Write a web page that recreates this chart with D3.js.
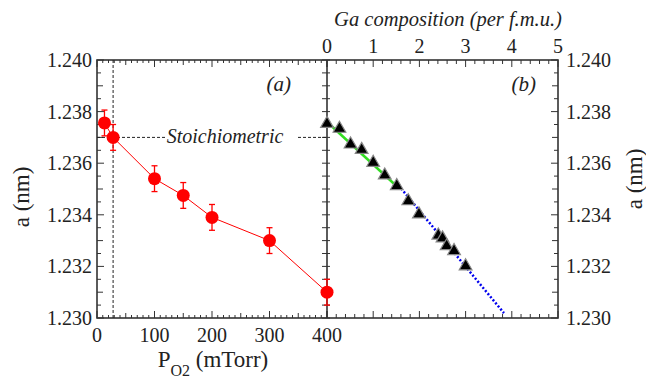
<!DOCTYPE html>
<html>
<head>
<meta charset="utf-8">
<script src="https://cdn.jsdelivr.net/npm/d3@7"></script>
<style>
  body { margin: 0; background: #fff; }
</style>
</head>
<body>
<svg id="chart" width="646" height="380"></svg>
<script>
// panel (a): lattice constant vs oxygen pressure
var pressure = [13, 28, 100, 150, 200, 300, 400];
var latticeA = [1.23756, 1.2370, 1.23540, 1.23475, 1.23390, 1.23300, 1.23100];
var errA = [0.0005, 0.0005, 0.0005, 0.0005, 0.0005, 0.0005, 0.0005];

// panel (b): lattice constant vs Ga composition
var gaComp = [0.0, 0.27, 0.51, 0.75, 1.0, 1.25, 1.51, 1.76, 1.99, 2.41, 2.50, 2.59, 2.75, 3.0];
var latticeB = [1.23757, 1.23738, 1.23677, 1.23656, 1.23606, 1.23557, 1.23516, 1.23457, 1.23406, 1.23324, 1.23313, 1.23283, 1.23264, 1.23205];

// fitted lines in (b)
var greenFitX = [0.05, 1.55];
var greenFitY = [1.23752, 1.23504];
var blueFitX = [1.55, 3.83];
var blueFitY = [1.23514, 1.23019];

var stoichP = 28;
var stoichA = 1.2370;

var yTicks = [1.230, 1.232, 1.234, 1.236, 1.238, 1.240];
var pTicks = [0, 100, 200, 300, 400];
var gaTicks = [0, 1, 2, 3, 4, 5];

var svg = d3.select("#chart");
var axisColor = "#333";
var textColor = "#222";
var serif = "Liberation Serif";   // quoted lists fell back to sans, keep single name

var xA = d3.scaleLinear().domain([0, 400]).range([97, 327]);
var xB = d3.scaleLinear().domain([0, 5]).range([327, 558]);
var y = d3.scaleLinear().domain([1.230, 1.240]).range([318, 60]);

// frame edges (avoid "top" - it's a window property)
var yTop = y.range()[1], yBot = y.range()[0];
var xLeft = xA.range()[0], xMid = xA.range()[1], xRight = xB.range()[1];

// ticks, drawn by hand so they point inside like the original
var g = svg.append("g").attr("stroke", axisColor);

function tick(x1, y1, x2, y2) {
    g.append("line").attr("x1", x1).attr("y1", y1).attr("x2", x2).attr("y2", y2).attr("stroke-width", 1);
}

// y ticks every 0.0005
d3.range(0, 21).forEach(function(i) {
    var yy = y(1.230 + i * 0.0005);
    var len = (i % 4 == 0) ? 7 : (i % 2 == 0 ? 6 : 4);
    tick(xLeft, yy, xLeft + len, yy);
    tick(xRight, yy, xRight - len, yy);
    tick(xMid - 5, yy, xMid + 3, yy);
});

// panel a x ticks every 10 mTorr
d3.range(0, 41).forEach(function(i) {
    var xx = xA(i * 10);
    var len = (i % 10 == 0) ? 7 : (i % 5 == 0 ? 5 : 3);
    tick(xx, yBot, xx, yBot - len);
    tick(xx, yTop, xx, yTop + len);
});

// panel b x ticks every 0.2
d3.range(0, 26).forEach(function(i) {
    var xx = xB(i * 0.2);
    var len = (i % 5 == 0) ? 7 : 4;
    tick(xx, yBot, xx, yBot - len);
    tick(xx, yTop, xx, yTop + len);
});

// frame and divider
svg.append("rect")
    .attr("x", xLeft).attr("y", yTop)
    .attr("width", xRight - xLeft).attr("height", yBot - yTop)
    .attr("fill", "none").attr("stroke", axisColor).attr("stroke-width", 1.6);
svg.append("line")
    .attr("x1", xMid).attr("x2", xMid).attr("y1", yTop).attr("y2", yBot)
    .attr("stroke", axisColor).attr("stroke-width", 1.6);

function label(x, yy, txt, size, anchor, italic) {
    return svg.append("text").attr("x", x).attr("y", yy)
        .attr("text-anchor", anchor || "middle")
        .attr("font-family", serif)
        .attr("font-size", size)
        .attr("font-style", italic ? "italic" : "normal")
        .attr("fill", textColor)
        .text(txt);
}

// tick labels
yTicks.forEach(function(d) {
    label(xLeft - 5, y(d) + 7, d3.format(".3f")(d), 20, "end");
    label(xRight + 8, y(d) + 7, d3.format(".3f")(d), 20, "start");
});
pTicks.forEach(function(d) { label(xA(d), 342, d, 20); });
gaTicks.forEach(function(d) { label(xB(d), 53, d, 20); });

// axis titles
label(0, 0, "a (nm)", 23).attr("transform", "translate(29,197) rotate(-90)");
label(0, 0, "a (nm)", 23).attr("transform", "translate(642,179) rotate(-90)");
var px = label(213, 367, "", 23);
px.append("tspan").text("P");
px.append("tspan").attr("dy", 9).attr("font-size", 16).text("O2");
px.append("tspan").attr("dy", -9).text(" (mTorr)");
label(448, 26, "Ga composition (per f.m.u.)", 20.5, "middle", true);

// panel labels
label(291, 91, "(a)", 21, "end", true);
label(536, 91, "(b)", 21, "end", true);

// stoichiometric guide lines
svg.append("line")
    .attr("x1", xA(stoichP)).attr("x2", xA(stoichP)).attr("y1", yTop).attr("y2", yBot)
    .attr("stroke", "#222").attr("stroke-width", 1).attr("stroke-dasharray", "3,2");
svg.append("line")
    .attr("x1", xLeft).attr("x2", 166).attr("y1", y(stoichA)).attr("y2", y(stoichA))
    .attr("stroke", "#222").attr("stroke-width", 1).attr("stroke-dasharray", "3,2");
svg.append("line")
    .attr("x1", 298).attr("x2", xMid).attr("y1", y(stoichA)).attr("y2", y(stoichA))
    .attr("stroke", "#222").attr("stroke-width", 1).attr("stroke-dasharray", "3,2");
label(225, y(stoichA) + 6, "Stoichiometric", 20, "middle", true);

// panel (a) data
var dataA = pressure.map(function(p, i) { return {x: p, y: latticeA[i], e: errA[i]}; });
svg.append("path").datum(dataA)
    .attr("fill", "none").attr("stroke", "#ff0000").attr("stroke-width", 1)
    .attr("d", d3.line().x(function(d) { return xA(d.x); }).y(function(d) { return y(d.y); }));
var eb = svg.append("g").attr("stroke", "#ff0000").attr("stroke-width", 1.3);
dataA.forEach(function(d) {
    eb.append("line").attr("x1", xA(d.x)).attr("x2", xA(d.x)).attr("y1", y(d.y - d.e)).attr("y2", y(d.y + d.e));
    eb.append("line").attr("x1", xA(d.x) - 3).attr("x2", xA(d.x) + 3).attr("y1", y(d.y - d.e)).attr("y2", y(d.y - d.e));
    eb.append("line").attr("x1", xA(d.x) - 3).attr("x2", xA(d.x) + 3).attr("y1", y(d.y + d.e)).attr("y2", y(d.y + d.e));
});
svg.selectAll(".dotA").data(dataA).enter().append("circle")
    .attr("cx", function(d) { return xA(d.x); }).attr("cy", function(d) { return y(d.y); })
    .attr("r", 6.5).attr("fill", "#ff0000");

// panel (b) fits
svg.append("line")
    .attr("x1", xB(greenFitX[0])).attr("y1", y(greenFitY[0]))
    .attr("x2", xB(greenFitX[1])).attr("y2", y(greenFitY[1]))
    .attr("stroke", "#33dd22").attr("stroke-width", 2.5);
svg.append("line")
    .attr("x1", xB(blueFitX[0])).attr("y1", y(blueFitY[0]))
    .attr("x2", xB(blueFitX[1])).attr("y2", y(blueFitY[1]))
    .attr("stroke", "#0000ee").attr("stroke-width", 2.5).attr("stroke-dasharray", "2,2");

// panel (b) data
var tri = d3.symbol().type(d3.symbolTriangle).size(70);
svg.selectAll(".triB").data(gaComp).enter().append("path")
    .attr("d", tri)
    .attr("transform", function(d, i) { return "translate(" + xB(d) + "," + (y(latticeB[i]) + 1) + ")"; })
    .attr("fill", "#000").attr("stroke", "#888").attr("stroke-width", 1.2);
</script>
</body>
</html>
